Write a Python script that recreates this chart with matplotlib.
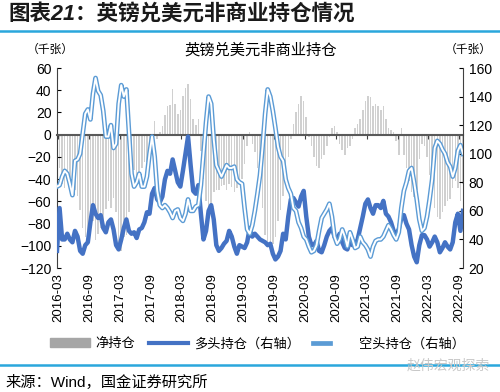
import pandas as pd
import matplotlib.pyplot as plt
from matplotlib.lines import Line2D
from matplotlib.patches import Patch
from matplotlib.legend_handler import HandlerTuple

plt.rcParams['font.family'] = ['Liberation Sans', 'Noto Sans CJK SC']

# 数据：半月一个点，2016-03 至 2022-09（千张）
short_pos = [77, 78, 84, 88, 86, 79, 71, 95, 96, 100, 114, 128, 131, 124, 142, 153, 144, 141, 130, 112,
             112, 120, 104, 107, 135, 148, 140, 145, 115, 86, 77, 80, 86, 77,
             77, 84, 100, 112, 98, 74, 64, 62, 64, 62, 59, 55, 60, 61, 55, 53, 58, 68, 60, 60,
             63, 64, 78, 100, 122, 140, 135, 110, 92, 88, 84, 88, 92, 90, 90, 91, 82, 80, 79, 62, 47, 44,
             50, 60, 72, 85, 105, 128, 145, 140, 130, 118, 105, 98, 95, 82, 76, 72, 62, 60, 52, 48,
             42, 40, 35, 31, 32, 36, 46, 55, 58, 61, 65, 56, 42, 37, 40, 47, 42, 35, 45, 40,
             34, 35, 42, 38, 36, 33, 28, 35, 39, 40, 40, 42, 46, 50, 47, 43, 40, 45, 62, 74,
             80, 88, 90, 80, 68, 54, 46, 48, 56, 68, 82, 104, 109, 107, 103, 100, 94, 91, 84, 90,
             102, 106, 100]

long_pos = [32, 62, 40, 40, 44, 40, 38, 46, 42, 32, 30, 36, 38, 52, 64, 58, 55, 57, 48, 45,
            52, 54, 47, 36, 33, 40, 48, 54, 46, 44, 45, 41, 47, 48, 52, 59, 58, 72, 76, 68,
            66, 70, 82, 88, 86, 96, 88, 80, 77, 88, 100, 112, 92, 74, 72, 78, 58, 40, 46, 60,
            64, 54, 36, 32, 34, 37, 39, 46, 42, 35, 30, 36, 35, 34, 38,
            48, 42, 44, 42, 40, 39, 38, 36, 37, 30, 26, 28, 32, 44, 40, 56, 68, 69, 66, 63,
            70, 74, 56, 42, 36, 36, 39, 32, 31, 36, 42, 46, 48, 42, 40, 44, 38, 34, 33, 39,
            36, 36, 40, 48, 56, 65, 68, 62, 58, 64, 64, 62, 67, 58, 56, 52, 46, 44, 47, 55,
            57, 51, 47, 36, 28, 24, 36, 43, 43, 40, 35, 38, 42, 38, 31, 34, 38, 35, 33, 38,
            52, 58, 46, 60]

net_pos = [-45, -30, -44, -48, -42, -40, -34, -50, -55, -68, -84, -92, -94, -72, -78, -95, -89, -84, -82, -67,
           -60, -66, -57, -70, -100, -105, -92, -90, -70, -42, -32, -38, -38, -30, -25, -25, -22, -8, 12, -4,
           2, 8, 18, 26, 27, 41, 28, 19, 22, 35, 42, 46, 32, 14, 9, 14, -15, -40, -60, -66,
           -62, -52, -50, -50, -46, -45, -50, -44, -47, -52, -48, -42, -40, -26, -10, 2,
           -8, -16, -30, -45, -66, -90, -100, -100, -98, -92, -78, -68, -55, -45, -20, -4, 10, 20, 28, 35,
           30, 16, -2, -10, -20, -28, -30, -22, -18, -10, -2, 6, 8, 2, -8, -14, -18, -12, -10, -4,
           6, 10, 14, 22, 30, 35, 34, 26, 28, 26, 22, 26, 14, 6, 4, 2, -6, -18, 6, -18,
           -30, -42, -52, -56, -50, -22, -8, -10, -20, -36, -48, -66, -74, -76, -70, -64, -60, -58, -48, -42,
           -48, -60, -44]

dates = pd.date_range('2016-02-23', '2022-09-23', periods=len(net_pos))
tick_dates = pd.date_range('2016-03-01', '2022-09-01', freq='6MS')
tick_labels = [d.strftime('%Y-%m') for d in tick_dates]

fig = plt.figure(figsize=(5, 3.92), dpi=100)
ax = fig.add_axes([0.114, 0.3163, 0.812, 0.5102])
ax2 = ax.twinx()

# 净持仓（左轴）
ax.bar(dates, net_pos, width=9, color='#d0d0d0', linewidth=0, zorder=1)
ax.set_ylim(-120, 60)
ax.set_yticks(range(-120, 61, 20))
ax.set_xlim(dates[0], dates[-1])

# 多头、空头（右轴）
ax2.plot(dates, long_pos, color='#4472c4', lw=3.2, solid_joinstyle='round')
ax2.plot(dates, short_pos, color='#5b9bd5', lw=3.4, solid_joinstyle='round')
ax2.plot(dates, short_pos, color='white', lw=1.4, solid_joinstyle='round')
ax2.set_ylim(20, 160)
ax2.set_yticks(range(20, 161, 20))

ax.set_xticks(tick_dates)
ax.set_xticklabels(tick_labels)

for s in ['top', 'right']:
    ax.spines[s].set_visible(False)
for s in ['top', 'bottom', 'left']:
    ax2.spines[s].set_visible(False)
ax.spines['bottom'].set_position(('data', 0))
ax.spines['bottom'].set_color('#595959')
ax.spines['bottom'].set_linewidth(1.5)
ax.spines['left'].set_color('#404040')
ax2.spines['right'].set_color('#404040')

ax.tick_params(axis='x', direction='out', length=3, color='#404040', labelbottom=False)
ax.tick_params(axis='y', direction='in', length=3, labelsize=10, pad=4)
ax2.tick_params(axis='y', direction='in', length=3, labelsize=10, pad=4)

ax2.xaxis.set_visible(True)
ax2.tick_params(axis='x', length=0, labelsize=9.5, labelrotation=90, pad=4, labelbottom=True)

# 文字
fig.text(8 / 500, 1 - 15 / 392, '图表21：英镑兑美元非商业持仓情况', fontsize=15.5,
         fontweight='bold', style='italic', ha='left', va='center', color='#1a1a1a')
fig.add_artist(Line2D([0, 1], [1 - 30.7 / 392] * 2, color='#2aa7dc', lw=1.8, transform=fig.transFigure))
fig.text(261 / 500, 1 - 50 / 392, '英镑兑美元非商业持仓', fontsize=11, ha='center', va='center')
fig.text(50 / 500, 1 - 50 / 392, '（千张）', fontsize=8.5, ha='center', va='center')
fig.text(468 / 500, 1 - 50 / 392, '（千张）', fontsize=8.5, ha='center', va='center')

handles = [Patch(color='#a6a6a6'),
           Line2D([], [], color='#4472c4', lw=3),
           (Line2D([], [], color='#5b9bd5', lw=3.4), Line2D([], [], color='white', lw=1.4))]
labels = ['净持仓', '多头持仓（右轴）', '空头持仓（右轴）']
fig.legend(handles, labels, loc='center', bbox_to_anchor=(0.515, 1 - 344 / 392), ncol=3,
           frameon=False, fontsize=9.5, handlelength=3.0, handletextpad=0.45, columnspacing=1.0,
           handler_map={tuple: HandlerTuple(ndivide=None)})

fig.add_artist(Line2D([0, 1], [1 - 365 / 392] * 2, color='#2aa7dc', lw=1.8, transform=fig.transFigure))
fig.text(448 / 500, 1 - 366 / 392, '赵伟宏观探索', fontsize=10, color='#c8c8c8', ha='center', va='center')
fig.text(5 / 500, 1 - 382 / 392, '来源：Wind，国金证券研究所', fontsize=11, ha='left', va='center')

fig.savefig('out.png', dpi=100)
